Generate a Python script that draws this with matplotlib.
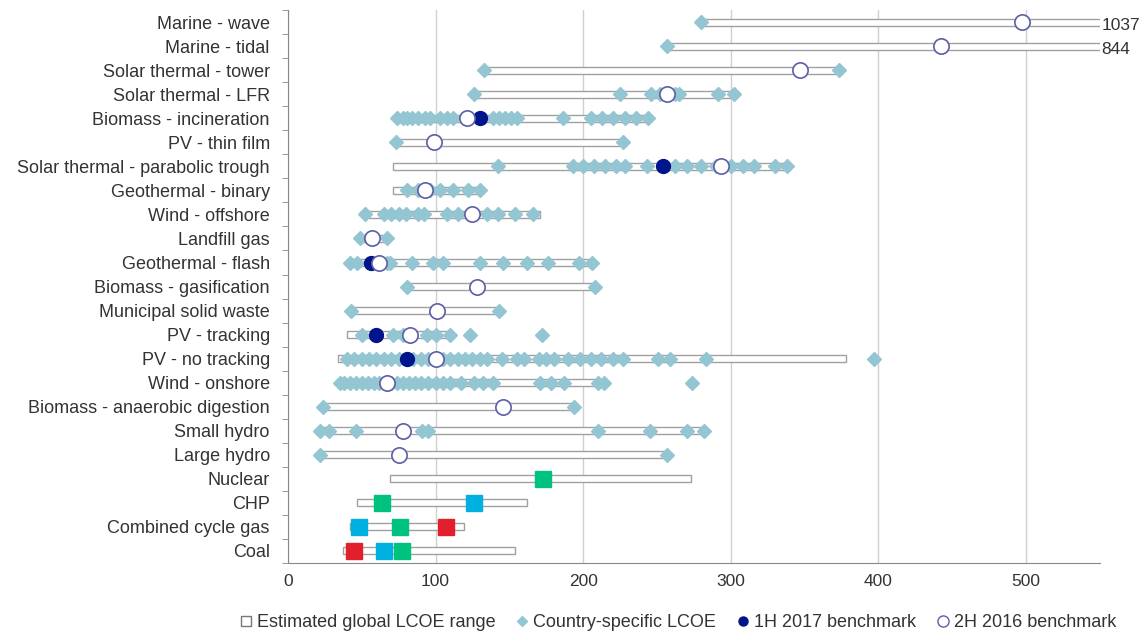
import matplotlib.pyplot as plt
from matplotlib.lines import Line2D

plt.rcParams['font.family'] = ['Liberation Sans', 'DejaVu Sans']

# Technologies, top to bottom
techs = ['Marine - wave', 'Marine - tidal', 'Solar thermal - tower', 'Solar thermal - LFR',
         'Biomass - incineration', 'PV - thin film', 'Solar thermal - parabolic trough',
         'Geothermal - binary', 'Wind - offshore', 'Landfill gas', 'Geothermal - flash',
         'Biomass - gasification', 'Municipal solid waste', 'PV - tracking', 'PV - no tracking',
         'Wind - onshore', 'Biomass - anaerobic digestion', 'Small hydro', 'Large hydro',
         'Nuclear', 'CHP', 'Combined cycle gas', 'Coal']

# Estimated global LCOE range (low, high), $/MWh
range_low = [280, 257, 133, 126, 75, 73, 71, 71, 55, 49, 42, 81, 43, 40, 34, 35, 24, 22, 22, 69, 47, 42, 37]
range_high = [1037, 844, 373, 302, 245, 227, 340, 130, 171, 67, 206, 208, 143, 110, 378, 208, 194, 282, 257, 273, 162, 119, 154]

# Country-specific LCOE points
country = [
    [280],
    [257],
    [133, 373],
    [126, 225, 246, 252, 262, 265, 291, 302],
    [74, 78, 81, 84, 88, 93, 96, 103, 108, 112, 139, 143, 147, 151, 155, 186, 205, 213, 220, 228, 236, 244],
    [73, 227],
    [142, 193, 200, 207, 215, 222, 228, 243, 262, 270, 280, 290, 300, 308, 316, 330, 338],
    [81, 88, 96, 103, 112, 122, 130],
    [52, 65, 70, 75, 80, 88, 92, 108, 115, 135, 142, 154, 166],
    [49, 67],
    [42, 47, 67, 69, 84, 98, 105, 130, 146, 162, 176, 197, 206],
    [81, 208],
    [43, 143],
    [50, 71, 78, 94, 100, 110, 123, 172],
    [40, 45, 50, 55, 60, 65, 70, 75, 80, 85, 90, 95, 105, 110, 115, 120, 125, 130, 135, 145,
     155, 160, 170, 175, 180, 190, 198, 205, 212, 220, 227, 251, 259, 283, 397],
    [35, 38, 42, 46, 50, 54, 58, 62, 66, 70, 74, 78, 82, 86, 90, 95, 100, 105, 110, 117,
     126, 132, 139, 171, 178, 187, 210, 214, 274],
    [24, 194],
    [22, 28, 46, 91, 95, 210, 245, 270, 282],
    [22, 257],
    [], [], [], [],
]

# Benchmarks (None = no value)
bench_1h2017 = [None, None, None, None, 130, None, 254, None, None, None, 56, None, None, 60, 81,
                None, None, None, None, None, None, None, None]
bench_2h2016 = [497, 442, 347, 257, 121, 99, 293, 93, 125, 57, 62, 128, 101, 83, 100,
                67, 146, 78, 75, None, None, None, None]

# Fossil / nuclear benchmarks by region
green_vals = {'Nuclear': 173, 'CHP': 64, 'Combined cycle gas': 76, 'Coal': 77}
cyan_vals = {'CHP': 126, 'Combined cycle gas': 48, 'Coal': 65}
red_vals = {'Combined cycle gas': 107, 'Coal': 45}

diamond_c = '#93c5d2'
navy = '#00148c'
circle_edge = '#5b5ea6'
text_c = '#333333'

fig = plt.figure(figsize=(11.47, 6.41), dpi=100)
ax = fig.add_axes([0.251, 0.122, 0.708, 0.862])

ypos = list(range(len(techs)))[::-1]

for i, t in enumerate(techs):
    y = ypos[i]
    ax.barh(y, range_high[i] - range_low[i], left=range_low[i], height=0.28,
            facecolor='white', edgecolor='#a0a0a0', linewidth=1, zorder=2)
    if country[i]:
        ax.plot(country[i], [y] * len(country[i]), 'D', color=diamond_c, ms=7.5,
                mec=diamond_c, zorder=3, clip_on=False)
    if bench_1h2017[i] is not None:
        ax.plot(bench_1h2017[i], y, 'o', color=navy, ms=10, mec=navy, zorder=4)
    if bench_2h2016[i] is not None:
        ax.plot(bench_2h2016[i], y, 'o', color='white', ms=11, mec=circle_edge, mew=1.2, zorder=5)
    if t in green_vals:
        ax.plot(green_vals[t], y, 's', color='#00c27f', ms=11, zorder=4)
    if t in cyan_vals:
        ax.plot(cyan_vals[t], y, 's', color='#00b0e0', ms=11, zorder=4)
    if t in red_vals:
        ax.plot(red_vals[t], y, 's', color='#e2202d', ms=11, zorder=4)

# Off-scale range maxima
for i in range(2):
    if range_high[i] > 550:
        ax.text(551, ypos[i] - 0.15, str(range_high[i]), fontsize=12.5, color=text_c,
                ha='left', va='center', clip_on=False)

ax.set_xlim(0, 550)
ax.set_ylim(-0.5, len(techs) - 0.5)
ax.set_yticks(ypos)
ax.set_yticklabels(techs, fontsize=13, color=text_c)
ax.set_yticks([y + 0.5 for y in range(-1, len(techs))], minor=True)
ax.tick_params(axis='y', which='major', length=0, pad=13)
ax.tick_params(axis='y', which='minor', length=4, color='#888888')
ax.set_xticks([0, 100, 200, 300, 400, 500])
ax.tick_params(axis='x', labelsize=12.5, labelcolor=text_c, length=0, pad=8)
ax.grid(axis='x', color='#d0d0d0', linewidth=1)
ax.set_axisbelow(True)
for s in ['top', 'right']:
    ax.spines[s].set_visible(False)
ax.spines['left'].set_color('#888888')
ax.spines['bottom'].set_color('#888888')

handles = [
    Line2D([], [], ls='none', marker='s', ms=7, mfc='white', mec='#777777', label='Estimated global LCOE range'),
    Line2D([], [], ls='none', marker='D', ms=5, color=diamond_c, label='Country-specific LCOE'),
    Line2D([], [], ls='none', marker='o', ms=6.5, color=navy, label='1H 2017 benchmark'),
    Line2D([], [], ls='none', marker='o', ms=8, mfc='white', mec=circle_edge, label='2H 2016 benchmark'),
]
fig.legend(handles=handles, loc='lower center', bbox_to_anchor=(0.59, -0.01), ncol=4,
           frameon=False, prop={'size': 13}, labelcolor=text_c, handletextpad=0.1,
           columnspacing=1.0, handlelength=1.0)

fig.savefig('out.png', dpi=100)
